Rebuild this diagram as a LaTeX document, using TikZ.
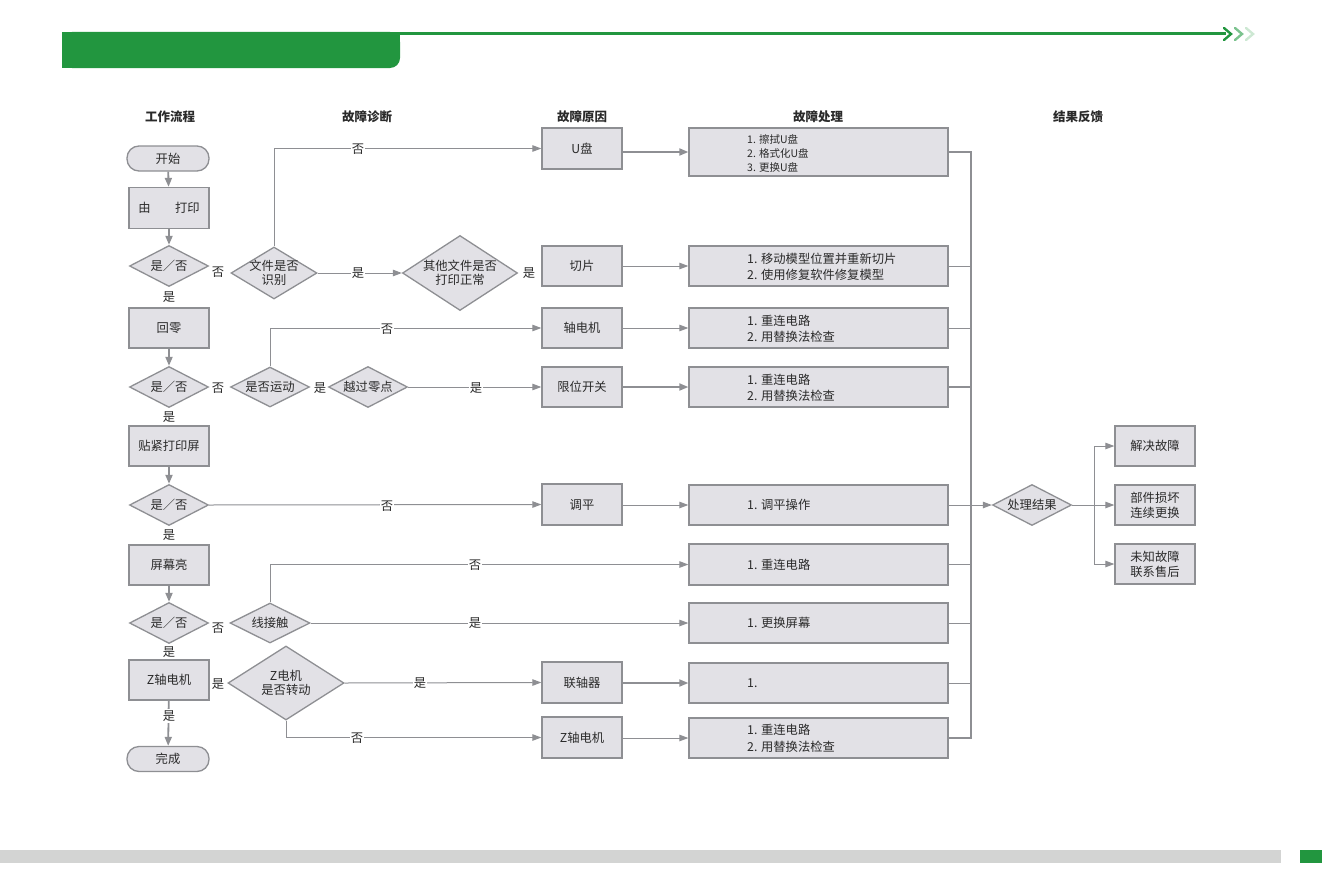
\documentclass[tikz,border=0pt]{standalone}
\usepackage{fontspec}
\setmainfont{Noto Sans CJK SC}
\usetikzlibrary{shapes.geometric,arrows.meta}
\definecolor{gfill}{HTML}{E2E1E6}
\definecolor{gline}{HTML}{8E8F93}
\definecolor{gtxt}{HTML}{2A2A2A}
\definecolor{hgreen}{HTML}{22963F}
\definecolor{hgreenb}{HTML}{7CC38F}
\definecolor{hgreenc}{HTML}{CDE8D3}
\definecolor{barg}{HTML}{D3D4D3}
\begin{document}
\begin{tikzpicture}[x=1pt,y=-1pt,
  txt/.style={text=gtxt,font=\fontsize{12.3}{14}\selectfont},
  boxn/.style={txt,draw=gline,fill=gfill,line width=1.3pt,rectangle,inner sep=0pt,align=center},
  pill/.style={boxn,rounded corners=12pt,minimum width=82pt,minimum height=25pt},
  lbox/.style={boxn,minimum width=80pt,minimum height=40pt},
  wbox/.style={boxn,minimum width=259pt,minimum height=40pt},
  dmd/.style={diamond,draw=gline,fill=gfill,line width=1.3pt,inner sep=0pt,aspect=2},
  lt/.style={txt,align=center},
  ln/.style={draw=gline,line width=1pt},
  tk/.style={draw=gline,line width=1.8pt},
  arr/.style={ln,-{Triangle[length=9pt,width=6.5pt]}},
  tarr/.style={tk,-{Triangle[length=9pt,width=7pt]}},
  lbl/.style={txt,fill=white,inner sep=1.2pt},
  hd/.style={text=gtxt,font=\fontsize{12.5}{14}\selectfont\bfseries},
  listtxt/.style={txt,anchor=west,align=left,inner sep=0pt}
]
\useasboundingbox (0,0) rectangle (1324,883);
% header
\fill[hgreen,rounded corners=10pt] (62,32) rectangle (400,68);
\fill[hgreen] (62,32) rectangle (388,68);
\fill[hgreen] (62,32) rectangle (400,50);
\draw[hgreen,line width=2.2pt] (399,33.5) -- (1226,33.5);
\draw[hgreen,line width=2.4pt,line cap=round] (1224,28) -- (1231,34) -- (1224,40);
\draw[hgreenb,line width=2.4pt,line cap=round] (1235,28) -- (1242,34) -- (1235,40);
\draw[hgreenc,line width=2.4pt,line cap=round] (1246,28) -- (1253,34) -- (1246,40);
% footer
\fill[barg] (0,850) rectangle (1281,863);
\fill[hgreen] (1300,850) rectangle (1322,863);
% column heads
\node[hd] (h1) at (170,117) {工作流程};
\node[hd] (h2) at (367,117) {故障诊断};
\node[hd] (h3) at (582,117) {故障原因};
\node[hd] (h4) at (818,117) {故障处理};
\node[hd] (h5) at (1078,117) {结果反馈};
% left column
\node[pill] (start) at (168,158.5) {开始};
\node[lbox,minimum height=41pt] (n1) at (169,208) {由\hspace{2em}打印};
\node[dmd,minimum width=79pt,minimum height=41pt,label={[lt]center:是／否}] (d1) at (169,266) {};
\node[lbox] (n2) at (169,328) {回零};
\node[dmd,minimum width=79pt,minimum height=41pt,label={[lt]center:是／否}] (d2) at (169,387) {};
\node[lbox] (n3) at (169,446) {贴紧打印屏};
\node[dmd,minimum width=79pt,minimum height=41pt,label={[lt]center:是／否}] (d3) at (169,505) {};
\node[lbox] (n4) at (169,565) {屏幕亮};
\node[dmd,minimum width=79pt,minimum height=41pt,label={[lt]center:是／否}] (d4) at (169,623) {};
\node[lbox] (n5) at (169,680) {Z轴电机};
\node[pill] (end) at (168,759) {完成};
% diagnosis
\node[dmd,minimum width=86pt,minimum height=52pt,label={[lt]center:{文件是否\\识别}}] (dA) at (274,273) {};
\node[dmd,minimum width=115pt,minimum height=75pt,label={[lt]center:{其他文件是否\\打印正常}}] (dB) at (460,273) {};
\node[dmd,minimum width=79pt,minimum height=40pt,label={[lt]center:是否运动}] (dC) at (270,387) {};
\node[dmd,minimum width=79pt,minimum height=41pt,label={[lt]center:越过零点}] (dD) at (368,387) {};
\node[dmd,minimum width=80pt,minimum height=40pt,label={[lt]center:线接触}] (dE) at (270,623) {};
\node[dmd,minimum width=116pt,minimum height=74pt,label={[lt]center:{Z电机\\是否转动}}] (dF) at (286,683) {};
% causes
\node[lbox,minimum height=41pt] (c1) at (582,148.5) {U盘};
\node[lbox] (c2) at (582,266) {切片};
\node[lbox] (c3) at (582,328) {轴电机};
\node[lbox] (c4) at (582,387) {限位开关};
\node[lbox,minimum height=41pt] (c5) at (582,504.5) {调平};
\node[lbox,minimum height=41pt] (c6) at (582,682.5) {联轴器};
\node[lbox,minimum height=41pt] (c7) at (582,737.5) {Z轴电机};
% remedies
\node[wbox,minimum height=48pt] (r1) at (818.5,152) {};
\node[wbox] (r2) at (818.5,266) {};
\node[wbox] (r3) at (818.5,328) {};
\node[wbox] (r4) at (818.5,387) {};
\node[wbox] (r5) at (818.5,505) {};
\node[wbox,minimum height=41pt] (r6) at (818.5,564.5) {};
\node[wbox] (r7) at (818.5,623) {};
\node[wbox] (r8) at (818.5,683) {};
\node[wbox] (r9) at (818.5,738) {};
\node[listtxt,font=\fontsize{10.5}{14}\selectfont] (t1) at (747,153) {1. 擦拭U盘\\2. 格式化U盘\\3. 更换U盘};
\node[listtxt,font=\fontsize{12.3}{16.5}\selectfont] (t2) at (747,267) {1. 移动模型位置并重新切片\\2. 使用修复软件修复模型};
\node[listtxt,font=\fontsize{12.3}{16.5}\selectfont] (t3) at (747,329) {1. 重连电路\\2. 用替换法检查};
\node[listtxt,font=\fontsize{12.3}{16.5}\selectfont] (t4) at (747,388) {1. 重连电路\\2. 用替换法检查};
\node[listtxt] (t5) at (747,505) {1. 调平操作};
\node[listtxt] (t6) at (747,564.5) {1. 重连电路};
\node[listtxt] (t7) at (747,623) {1. 更换屏幕};
\node[listtxt] (t8) at (747,683) {1.};
\node[listtxt,font=\fontsize{12.3}{16.5}\selectfont] (t9) at (747,738.5) {1. 重连电路\\2. 用替换法检查};
% results
\node[dmd,minimum width=79pt,minimum height=41pt,label={[lt]center:处理结果}] (dR) at (1032,505) {};
\node[lbox] (f1) at (1155,446) {解决故障};
\node[lbox,font=\fontsize{12.3}{15}\selectfont] (f2) at (1155,505) {部件损坏\\连续更换};
\node[lbox,font=\fontsize{12.3}{15}\selectfont] (f3) at (1155,564) {未知故障\\联系售后};
\coordinate (bt) at (971,152);
\coordinate (bb) at (971,738);
\coordinate (br) at (1094,505);
% connectors: left column
\draw[tarr] (start) -- (n1);
\draw[tarr] (n1) -- (d1);
\draw[tarr] (n2) -- (d2);
\draw[tarr] (n3) -- (d3);
\draw[tarr] (n4) -- (d4);
\draw[tarr] (n5) -- (end);
% diagnosis
\draw[arr] (dA.north) |- (c1.west);
\draw[arr] (dA.east) -- (dB.west);
\draw[arr] (dC.north) |- (c3.west);
\draw[arr] (dD.east) -- (c4.west);
\draw[arr] (d3.east) -- (c5.west);
\draw[arr] (dE.north) |- (r6.west);
\draw[arr] (dE.east) -- (r7.west);
\draw[arr] (dF.east) -- (c6.west);
\draw[arr] (dF.south) |- (c7.west);
% causes to remedies
\draw[tarr] (c1.east |- r1.west) -- (r1.west);
\draw[arr] (c2.east) -- (r2.west);
\draw[arr] (c3.east) -- (r3.west);
\draw[tarr] (c4.east) -- (r4.west);
\draw[arr] (c5.east |- r5.west) -- (r5.west);
\draw[tarr] (c6.east |- r8.west) -- (r8.west);
\draw[arr] (c7.east |- r9.west) -- (r9.west);
% bus
\draw[tk] (r1.east) -- (bt) -- (bb) -- (r9.east);
\draw[ln] (r2.east) -- (r2.east -| bt);
\draw[ln] (r3.east) -- (r3.east -| bt);
\draw[tk] (r4.east) -- (r4.east -| bt);
\draw[ln] (r6.east) -- (r6.east -| bt);
\draw[ln] (r7.east) -- (r7.east -| bt);
\draw[ln] (r8.east) -- (r8.east -| bt);
\draw[arr] (r5.east) -- (dR.west);
\draw[ln] (dR.east) -- (br);
\draw[arr] (br) |- (f1.west);
\draw[arr] (br) -- (f2.west);
\draw[arr] (br) |- (f3.west);
% labels
\node[lbl] (l1) at (169,297) {是};
\node[lbl] (l2) at (169,417) {是};
\node[lbl] (l3) at (169,535) {是};
\node[lbl] (l4) at (169,652) {是};
\node[lbl] (l5) at (169,716) {是};
\node[lbl] (l6) at (218,272) {否};
\node[lbl] (l7) at (218,388) {否};
\node[lbl] (l8) at (218,628) {否};
\node[lbl] (l9) at (218,684) {是};
\node[lbl] (l10) at (358,149) {否};
\node[lbl] (l11) at (358,273) {是};
\node[lbl] (l12) at (529,273) {是};
\node[lbl] (l13) at (320,388) {是};
\node[lbl] (l14) at (387,329) {否};
\node[lbl] (l15) at (476,388) {是};
\node[lbl] (l16) at (387,506) {否};
\node[lbl] (l17) at (475,565) {否};
\node[lbl] (l18) at (475,623) {是};
\node[lbl] (l19) at (420,683) {是};
\node[lbl] (l20) at (357,738) {否};
\end{tikzpicture}
\end{document}
